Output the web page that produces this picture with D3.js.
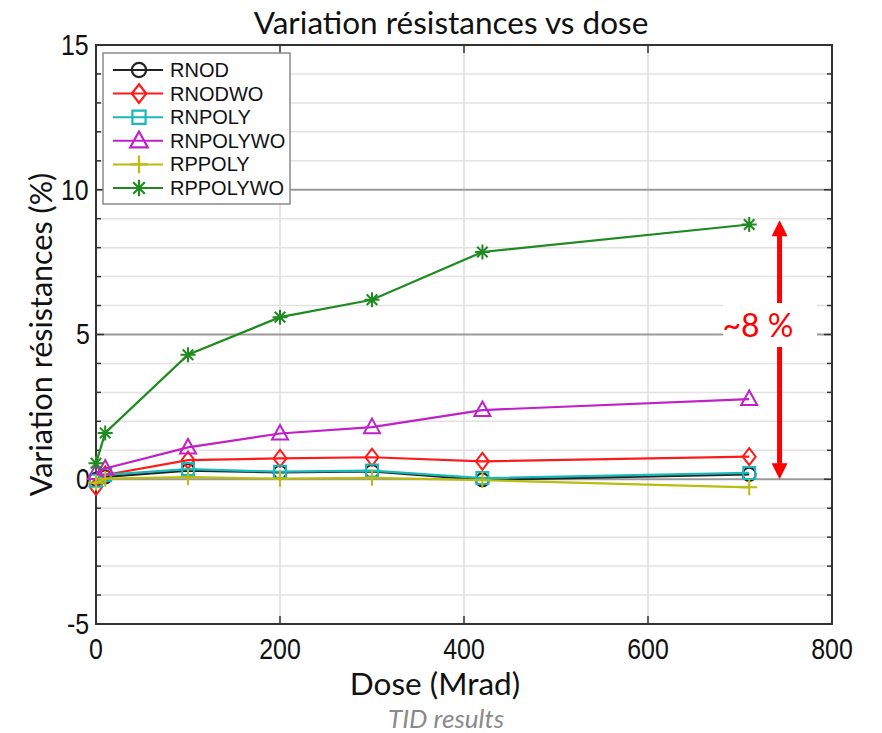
<!DOCTYPE html>
<html>
<head>
<meta charset="utf-8">
<script src="https://cdn.jsdelivr.net/npm/d3@7"></script>
<style>
    body { margin: 0; background: #fff; }
    .cond { transform-box: fill-box; transform-origin: center; transform: scaleX(0.86); }
</style>
</head>
<body>
<div id="chart"></div>
<script>
// dose points (Mrad)
const doses = [0, 10, 100, 200, 300, 420, 710];

// resistance variation (%) per device
const rnod     = [0.0, 0.08, 0.30, 0.24, 0.27, -0.02, 0.17];
const rnodwo   = [-0.25, 0.15, 0.66, 0.72, 0.76, 0.62, 0.78];
const rnpoly   = [-0.05, 0.15, 0.35, 0.26, 0.30, 0.04, 0.22];
const rnpolywo = [0.22, 0.37, 1.10, 1.58, 1.80, 2.39, 2.77];
const rppoly   = [-0.12, 0.02, 0.07, 0.02, 0.05, -0.03, -0.28];
const rppolywo = [0.55, 1.60, 4.30, 5.60, 6.20, 7.85, 8.80];

const seriesNames = ["RNOD", "RNODWO", "RNPOLY", "RNPOLYWO", "RPPOLY", "RPPOLYWO"];
const seriesValues = [rnod, rnodwo, rnpoly, rnpolywo, rppoly, rppolywo];
const seriesColors = ["#222222", "#ff1a1a", "#1ab8b8", "#c020c8", "#bcbc10", "#1f8a1f"];
const seriesMarkers = ["circle", "diamond", "square", "triangle", "plus", "star"];

const xTicks = [0, 200, 400, 600, 800];
const yTicks = [-5, 0, 5, 10, 15];
const arrowRange = [0, 8.95];
const arrowDose = 743;
const arrowLabel = "~8 %";

const W = 882, H = 733;
const margin = {top: 45, right: 50, bottom: 109, left: 96};

const svg = d3.select("#chart").append("svg")
    .attr("width", W)
    .attr("height", H);

const x = d3.scaleLinear().domain([0, 800]).range([margin.left, W - margin.right]);
const y = d3.scaleLinear().domain([-5, 15]).range([H - margin.bottom, margin.top]);

const minorY = y.ticks(20);

// grid
svg.append("g").selectAll("line.minor")
    .data(minorY.filter(d => yTicks.indexOf(d) < 0))
    .join("line")
    .attr("x1", x(0)).attr("x2", x(800))
    .attr("y1", d => y(d)).attr("y2", d => y(d))
    .attr("stroke", "#e2e2e2").attr("stroke-width", 1.5);

svg.append("g").selectAll("line")
    .data(xTicks.slice(1, -1))
    .join("line")
    .attr("x1", d => x(d)).attr("x2", d => x(d))
    .attr("y1", y(15)).attr("y2", y(-5))
    .attr("stroke", "#dcdcdc").attr("stroke-width", 1.5);

svg.append("g").selectAll("line")
    .data(yTicks.slice(1, -1))
    .join("line")
    .attr("x1", x(0)).attr("x2", x(800))
    .attr("y1", d => y(d)).attr("y2", d => y(d))
    .attr("stroke", "#9a9a9a").attr("stroke-width", 1.8);

// frame and ticks
svg.append("rect")
    .attr("x", x(0)).attr("y", y(15))
    .attr("width", x(800) - x(0)).attr("height", y(-5) - y(15))
    .attr("fill", "none").attr("stroke", "#333").attr("stroke-width", 2);

const tickG = svg.append("g").attr("stroke", "#333").attr("stroke-width", 1.5);
tickG.selectAll("line.yl").data(minorY).join("line")
    .attr("x1", x(0)).attr("x2", d => x(0) + (yTicks.indexOf(d) >= 0 ? 8 : 5))
    .attr("y1", d => y(d)).attr("y2", d => y(d));
tickG.selectAll("line.yr").data(minorY).join("line")
    .attr("x1", x(800)).attr("x2", d => x(800) - (yTicks.indexOf(d) >= 0 ? 8 : 5))
    .attr("y1", d => y(d)).attr("y2", d => y(d));
tickG.selectAll("line.xb").data(xTicks).join("line")
    .attr("x1", d => x(d)).attr("x2", d => x(d))
    .attr("y1", y(-5)).attr("y2", y(-5) - 8);
tickG.selectAll("line.xt").data(xTicks).join("line")
    .attr("x1", d => x(d)).attr("x2", d => x(d))
    .attr("y1", y(15)).attr("y2", y(15) + 8);

// tick labels
svg.append("g").selectAll("text")
    .data(xTicks)
    .join("text")
    .attr("class", "cond")
    .attr("x", d => x(d))
    .attr("y", y(-5) + 35)
    .attr("text-anchor", "middle")
    .style("font-family", "Liberation Sans, Arial, sans-serif")
    .style("font-size", "29px")
    .style("fill", "#111")
    .text(d => d);

svg.append("g").selectAll("text")
    .data(yTicks)
    .join("text")
    .attr("class", "cond")
    .attr("x", x(0) - 5)
    .attr("y", d => y(d) + 10)
    .attr("text-anchor", "end")
    .style("font-family", "Liberation Sans, Arial, sans-serif")
    .style("font-size", "29px")
    .style("fill", "#111")
    .text(d => d);

// titles
svg.append("text")
    .attr("x", 451).attr("y", 34)
    .attr("text-anchor", "middle")
    .style("font-family", "Lato, sans-serif")
    .style("font-size", "31.5px")
    .style("fill", "#111")
    .text("Variation résistances vs dose");

svg.append("text")
    .attr("x", 435).attr("y", 695)
    .attr("text-anchor", "middle")
    .style("font-family", "Lato, sans-serif")
    .style("font-size", "31.5px")
    .style("fill", "#111")
    .text("Dose (Mrad)");

svg.append("text")
    .attr("transform", `translate(52, ${y(5) + 0}) rotate(-90)`)
    .attr("text-anchor", "middle")
    .style("font-family", "Lato, sans-serif")
    .style("font-size", "30.5px")
    .style("fill", "#111")
    .text("Variation résistances (%)");

svg.append("text")
    .attr("x", 446).attr("y", 728)
    .attr("text-anchor", "middle")
    .style("font-family", "Lato, sans-serif")
    .style("font-style", "italic")
    .style("font-size", "26px")
    .style("fill", "#8a8a8a")
    .text("TID results");

// markers
function markerPath(type) {
    switch (type) {
        case "circle": return "M-6.5,0A6.5,6.5 0 1,0 6.5,0A6.5,6.5 0 1,0 -6.5,0Z";
        case "diamond": return "M0,-8.5L6.5,0L0,8.5L-6.5,0Z";
        case "square": return "M-6,-6H6V6H-6Z";
        case "triangle": return "M0,-8.5L8,6L-8,6Z";
        case "plus": return "M0,-8V8M-8,0H8";
        case "star": return "M0,-7.5V7.5M-7.5,0H7.5M-5.3,-5.3L5.3,5.3M-5.3,5.3L5.3,-5.3";
    }
}

const line = d3.line()
    .x((d, i) => x(doses[i]))
    .y(d => y(d));

const seriesG = svg.append("g").selectAll("g")
    .data(seriesValues)
    .join("g");

seriesG.append("path")
    .attr("d", d => line(d))
    .attr("fill", "none")
    .attr("stroke", (d, i) => seriesColors[i])
    .attr("stroke-width", 2.2);

seriesG.each(function (vals, si) {
    d3.select(this).selectAll("path.mk")
        .data(vals)
        .join("path")
        .attr("class", "mk")
        .attr("transform", (d, i) => `translate(${x(doses[i])},${y(d)})`)
        .attr("d", markerPath(seriesMarkers[si]))
        .attr("fill", "none")
        .attr("stroke", seriesColors[si])
        .attr("stroke-width", 2);
});

// legend
const legend = svg.append("g").attr("transform", "translate(103,53)");
legend.append("rect")
    .attr("width", 187).attr("height", 151)
    .attr("fill", "#fff").attr("stroke", "#8a8a8a").attr("stroke-width", 1.5);

const legendRow = legend.selectAll("g.row")
    .data(seriesNames)
    .join("g")
    .attr("class", "row")
    .attr("transform", (d, i) => `translate(0, ${17 + i * 23.6})`);

legendRow.append("line")
    .attr("x1", 10).attr("x2", 60)
    .attr("stroke", (d, i) => seriesColors[i]).attr("stroke-width", 2);
legendRow.append("path")
    .attr("transform", "translate(36,0) scale(1.1)")
    .attr("d", (d, i) => markerPath(seriesMarkers[i]))
    .attr("fill", "none")
    .attr("stroke", (d, i) => seriesColors[i]).attr("stroke-width", 2);
legendRow.append("text")
    .attr("x", 67).attr("y", 7)
    .style("font-family", "Liberation Sans, Arial, sans-serif")
    .style("font-size", "20px")
    .style("fill", "#111")
    .text(d => d);

// annotation
const ann = svg.append("g");
const ax = x(arrowDose);
ann.append("line")
    .attr("x1", ax).attr("x2", ax)
    .attr("y1", y(arrowRange[1]) + 12).attr("y2", y(arrowRange[0]) - 12)
    .attr("stroke", "#ff0000").attr("stroke-width", 5);
ann.append("path")
    .attr("d", `M${ax},${y(arrowRange[1])}L${ax + 8},${y(arrowRange[1]) + 16}L${ax - 8},${y(arrowRange[1]) + 16}Z`)
    .attr("fill", "#ff0000");
ann.append("path")
    .attr("d", `M${ax},${y(arrowRange[0])}L${ax + 8},${y(arrowRange[0]) - 16}L${ax - 8},${y(arrowRange[0]) - 16}Z`)
    .attr("fill", "#ff0000");
ann.append("rect")
    .attr("x", 723).attr("y", 303)
    .attr("width", 94).attr("height", 44)
    .attr("fill", "#fff");
ann.append("text")
    .attr("x", 758).attr("y", 337)
    .attr("text-anchor", "middle")
    .style("font-family", "Lato, sans-serif")
    .style("font-size", "32px")
    .style("fill", "#ff0000")
    .text(arrowLabel);
</script>
</body>
</html>
